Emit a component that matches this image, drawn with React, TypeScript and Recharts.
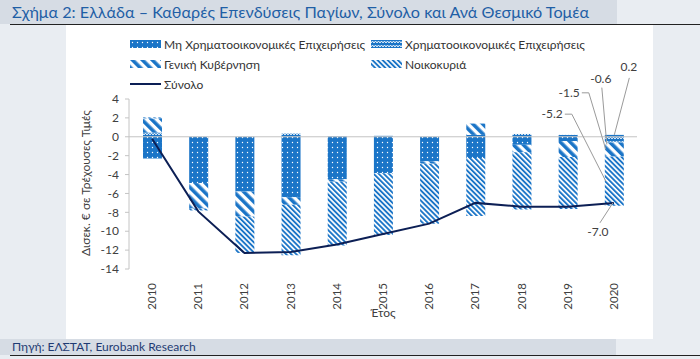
import { ComposedChart, Bar, Line, XAxis, YAxis, ReferenceLine, LabelList } from 'recharts';

const years = ['2010', '2011', '2012', '2013', '2014', '2015', '2016', '2017', '2018', '2019', '2020'];
const nonFinancial = [-2.3, -4.9, -5.8, -6.4, -4.5, -3.85, -2.6, -2.25, -0.85, -0.45, 0.2];
const financial = [0.45, 0, 0, 0.35, 0.05, 0.1, 0, 0.2, 0.3, 0.2, -0.6];
const government = [1.5, -2.7, -2.65, -0.8, -0.25, 0, -0.25, 1.2, -0.8, -1.7, -1.5];
const households = [0.1, -0.2, -3.85, -5.35, -6.75, -6.55, -6.35, -6.15, -6.05, -5.5, -5.2];
const total = [-0.2, -7.9, -12.3, -12.2, -11.4, -10.3, -9.2, -7.0, -7.4, -7.4, -7.0];
const yTicks = [-14, -12, -10, -8, -6, -4, -2, 0, 2, 4];

const LAST = years.length - 1;
const lastOnly = (arr: number[], i: number) => (i === LAST ? arr[i] : null);

const data = years.map((year, i) => ({
  year,
  nonFinancial: nonFinancial[i],
  financial: financial[i],
  government: government[i],
  households: households[i],
  total: total[i],
  nonFinancialNote: lastOnly(nonFinancial, i),
  financialNote: lastOnly(financial, i),
  governmentNote: lastOnly(government, i),
  householdsNote: lastOnly(households, i),
  totalNote: lastOnly(total, i),
}));

const BLUE = '#1b75c7';
const LEADER = '#9a9a9a';
const TXT = '#404040';
const FONT = 'Lato, "Noto Sans", sans-serif';

const fmt = (v: any) => Number(v).toFixed(1);
const empty = (v: any) => v === null || v === undefined || v === '';

// segment geometry from a bar label
const seg = (p: any) => {
  const x = Number(p.x), w = Number(p.width), y = Number(p.y), h = Number(p.height);
  const top = Math.min(y, y + h);
  const bottom = Math.max(y, y + h);
  return { cx: x + w / 2, left: x, top, bottom, mid: (top + bottom) / 2 };
};

const NonFinLabel = (p: any) => {
  if (empty(p.value)) return null;
  const s = seg(p);
  return (
    <g>
      <polyline points={`${s.cx},${s.top} ${s.cx + 15},${s.top - 57}`} stroke={LEADER} fill="none" />
      <text x={s.cx + 14.5} y={s.top - 64} textAnchor="middle" fontSize={12} fill={TXT}>{fmt(p.value)}</text>
    </g>
  );
};

const FinLabel = (p: any) => {
  if (empty(p.value)) return null;
  const s = seg(p);
  return (
    <g>
      <polyline points={`${s.left + 2},${s.bottom + 2} ${s.cx - 12.5},${s.mid - 52}`} stroke={LEADER} fill="none" />
      <text x={s.cx - 13.5} y={s.mid - 57} textAnchor="middle" fontSize={12} fill={TXT}>{fmt(p.value)}</text>
    </g>
  );
};

const GovLabel = (p: any) => {
  if (empty(p.value)) return null;
  const s = seg(p);
  return (
    <g>
      <polyline
        points={`${s.cx - 32.5},${s.mid - 56.7} ${s.cx - 25.5},${s.mid - 56.7} ${s.left + 1},${s.mid}`}
        stroke={LEADER}
        fill="none"
      />
      <text x={s.cx - 34.5} y={s.mid - 52.5} textAnchor="end" fontSize={12} fill={TXT}>{fmt(p.value)}</text>
    </g>
  );
};

const HouseLabel = (p: any) => {
  if (empty(p.value)) return null;
  const s = seg(p);
  return (
    <g>
      <polyline
        points={`${s.cx - 49.5},${s.mid - 67} ${s.cx - 42.5},${s.mid - 67} ${s.left + 1},${s.mid}`}
        stroke={LEADER}
        fill="none"
      />
      <text x={s.cx - 51.5} y={s.mid - 63} textAnchor="end" fontSize={12} fill={TXT}>{fmt(p.value)}</text>
    </g>
  );
};

const TotalLabel = (p: any) => {
  if (empty(p.value)) return null;
  const x = Number(p.x), y = Number(p.y);
  return (
    <g>
      <polyline points={`${x - 1},${y} ${x - 14},${y + 20}`} stroke={LEADER} fill="none" />
      <text x={x - 16} y={y + 33} textAnchor="middle" fontSize={12} fill={TXT}>{fmt(p.value)}</text>
    </g>
  );
};

const YearTick = (p: any) => (
  <g transform={`translate(${p.x},${p.y + 6}) rotate(-90)`}>
    <text x={0} y={0} dy={4} textAnchor="end" fontSize={11.5} fill={TXT}>
      {p.payload.value}
    </text>
  </g>
);

const legendItems = [
  { label: 'Μη Χρηματοοικονομικές Επιχειρήσεις', fill: 'url(#pDots)', x: 130, y: 44 },
  { label: 'Χρηματοοικονομικές Επιχειρήσεις', fill: 'url(#pWave)', x: 371, y: 44 },
  { label: 'Γενική Κυβέρνηση', fill: 'url(#pWide)', x: 130, y: 64 },
  { label: 'Νοικοκυριά', fill: 'url(#pFine)', x: 371, y: 64 },
];

export default function App() {
  return (
    <div
      style={{
        position: 'relative',
        width: 700,
        height: 359,
        background: '#e9edf2',
        fontFamily: FONT,
        overflow: 'hidden',
      }}
    >
      <style>{'body{margin:0}'}</style>
      <div style={{ position: 'absolute', left: 0, top: 0, width: 617, height: 24, background: '#d6dce4' }} />
      <div style={{ position: 'absolute', left: 66, top: 25, width: 587, height: 314, background: '#ffffff' }} />
      <div style={{ position: 'absolute', left: 0, top: 339, width: 616, height: 16, background: '#d6dce4' }} />
      <div style={{ position: 'absolute', left: 10, top: 24, width: 690, height: 1, background: '#222' }} />
      <div style={{ position: 'absolute', left: 10, top: 355, width: 690, height: 1, background: '#222' }} />
      <div style={{ position: 'absolute', left: 12, top: 2, fontSize: 16.2, color: '#1f5fa6', whiteSpace: 'nowrap' }}>
        Σχήμα 2: Ελλάδα – Καθαρές Επενδύσεις Παγίων, Σύνολο και Ανά Θεσμικό Τομέα
      </div>
      <div style={{ position: 'absolute', left: 12, top: 339, fontSize: 12, color: '#1f3b73', whiteSpace: 'nowrap' }}>
        Πηγή: ΕΛΣΤΑΤ, Eurobank Research
      </div>

      <div style={{ position: 'absolute', left: 0, top: 0 }}>
        <ComposedChart
          width={700}
          height={359}
          data={data}
          stackOffset="sign"
          margin={{ top: 99, right: 63, bottom: 0, left: 0 }}
        >
          <defs>
            <pattern id="pDots" width="5" height="5" patternUnits="userSpaceOnUse">
              <rect width="5" height="5" fill={BLUE} />
              <circle cx="2.5" cy="2.5" r="0.7" fill="#ffffff" />
            </pattern>
            <pattern id="pWave" width="6" height="4" patternUnits="userSpaceOnUse">
              <rect width="6" height="4" fill={BLUE} />
              <path d="M0 3 L1.5 1 L3 3 L4.5 1 L6 3" stroke="#ffffff" strokeWidth="0.9" fill="none" />
            </pattern>
            <pattern id="pWide" width="7" height="7" patternUnits="userSpaceOnUse" patternTransform="rotate(-45)">
              <rect width="7" height="7" fill="#ffffff" />
              <rect width="3.6" height="7" fill={BLUE} />
            </pattern>
            <pattern id="pFine" width="3.6" height="3.6" patternUnits="userSpaceOnUse" patternTransform="rotate(-45)">
              <rect width="3.6" height="3.6" fill="#ffffff" />
              <rect width="1.9" height="3.6" fill={BLUE} />
            </pattern>
          </defs>
          <XAxis
            dataKey="year"
            height={90}
            axisLine={false}
            tickLine={false}
            interval={0}
            tick={<YearTick />}
            label={{ value: 'Έτος', position: 'insideBottom', offset: 42, fontSize: 12, fill: TXT }}
          />
          <YAxis
            width={129}
            domain={[-14, 4]}
            ticks={yTicks}
            interval={0}
            axisLine={{ stroke: '#c4c4c4' }}
            tickLine={{ stroke: '#c4c4c4' }}
            tickSize={4}
            tickMargin={6}
            tick={{ fontSize: 12, fill: TXT }}
            label={{
              value: 'Δισεκ. € σε Τρέχουσες Τιμές',
              angle: -90,
              position: 'insideLeft',
              offset: 86,
              dy: 72,
              fontSize: 12,
              fill: TXT,
            }}
          />
          <ReferenceLine y={0} stroke="#c4c4c4" />
          <Bar dataKey="nonFinancial" stackId="s" fill="url(#pDots)" barSize={19} isAnimationActive={false}>
            <LabelList dataKey="nonFinancialNote" content={<NonFinLabel />} />
          </Bar>
          <Bar dataKey="financial" stackId="s" fill="url(#pWave)" barSize={19} isAnimationActive={false}>
            <LabelList dataKey="financialNote" content={<FinLabel />} />
          </Bar>
          <Bar dataKey="government" stackId="s" fill="url(#pWide)" barSize={19} isAnimationActive={false}>
            <LabelList dataKey="governmentNote" content={<GovLabel />} />
          </Bar>
          <Bar dataKey="households" stackId="s" fill="url(#pFine)" barSize={19} isAnimationActive={false}>
            <LabelList dataKey="householdsNote" content={<HouseLabel />} />
          </Bar>
          <Line
            type="linear"
            dataKey="total"
            stroke="#0c1f55"
            strokeWidth={2}
            dot={false}
            isAnimationActive={false}
          >
            <LabelList dataKey="totalNote" content={<TotalLabel />} />
          </Line>
        </ComposedChart>
      </div>

      {legendItems.map((it) => (
        <div
          key={it.label}
          style={{
            position: 'absolute',
            left: it.x,
            top: it.y - 8,
            height: 16,
            display: 'flex',
            alignItems: 'center',
            fontSize: 12,
            color: '#333',
            whiteSpace: 'nowrap',
          }}
        >
          <svg width={31} height={8} style={{ marginRight: 3 }}>
            <rect width={31} height={8} fill={it.fill} />
          </svg>
          {it.label}
        </div>
      ))}
      <div
        style={{
          position: 'absolute',
          left: 130,
          top: 76,
          height: 16,
          display: 'flex',
          alignItems: 'center',
          fontSize: 12,
          color: '#333',
        }}
      >
        <svg width={31} height={8} style={{ marginRight: 3 }}>
          <line x1={0} y1={4} x2={31} y2={4} stroke="#0c1f55" strokeWidth={2} />
        </svg>
        Σύνολο
      </div>
    </div>
  );
}
